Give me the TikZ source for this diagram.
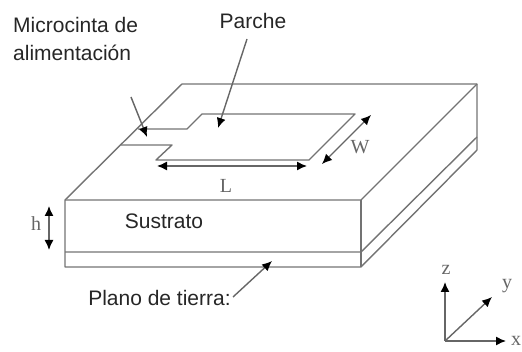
\documentclass[tikz,border=0pt]{standalone}
\usepackage{fontspec}
\setmainfont{Liberation Sans}
\newfontfamily\serifl{Liberation Serif}
\usetikzlibrary{arrows.meta}
\tikzset{
  edge/.style={draw=black!55,line width=1.4pt,line join=round},
  pointer/.style={draw=black!60,line width=1.4pt,-{Latex[length=10pt,width=9pt,black]}},
  dimen/.style={draw=black!60,line width=1.4pt,{Latex[length=10pt,width=9pt,black]}-{Latex[length=10pt,width=9pt,black]}},
  sanslabel/.style={font=\fontsize{21}{28}\selectfont,text=black!85,inner sep=0pt,align=left},
  seriflabel/.style={font=\serifl\fontsize{20}{22}\selectfont,text=black!60,inner sep=0pt},
}
\begin{document}
\begin{tikzpicture}[x=1pt,y=-1pt]
\useasboundingbox (0,0) rectangle (522,352);
% substrate block
\coordinate (ftl) at (65,200);
\coordinate (ftr) at (361,200);
\coordinate (bbl) at (182,84);
\coordinate (bbr) at (477,84);
\coordinate (fml) at (65,252);
\coordinate (fmr) at (361,252);
\coordinate (fbl) at (65,267);
\coordinate (fbr) at (361,267);
\coordinate (rm) at (477,137);
\coordinate (rb) at (477,150);
\draw[edge] (fbl) -- (ftl) -- (bbl) -- (bbr) -- (rb) -- (fbr) -- cycle;
\draw[edge] (ftl) -- (ftr) -- (bbr);
\draw[edge] (ftr) -- (fbr);
\draw[edge] (fml) -- (fmr) -- (rm);
% patch and feed line
\coordinate (p1) at (138,129);
\coordinate (p2) at (187,129);
\coordinate (p3) at (202,114);
\coordinate (p4) at (355,114);
\coordinate (p5) at (309,160);
\coordinate (p6) at (156,160);
\coordinate (p7) at (172,145);
\coordinate (p8) at (121,145);
\draw[edge] (p1) -- (p2) -- (p3) -- (p4) -- (p5) -- (p6) -- (p7) -- (p8);
% labels
\node[sanslabel,anchor=base west] (micro) at (13,61) {Microcinta de\\alimentación};
\node[sanslabel,anchor=base] (parche) at (253,29) {Parche};
\node[sanslabel,anchor=base] (sustrato) at (164,229) {Sustrato};
\node[sanslabel,anchor=base] (plano) at (159.5,306) {Plano de tierra:};
\node[seriflabel] (lL) at (226,186) {L};
\node[seriflabel] (lW) at (360,147) {W};
\node[seriflabel] (lh) at (36,224) {h};
\node[seriflabel] (lz) at (446,270) {z};
\node[seriflabel] (ly) at (507,286) {y};
\node[seriflabel] (lx) at (516,341) {x};
% pointers
\coordinate (mstart) at (131,97);
\coordinate (mend) at (147,137);
\coordinate (pstart) at (247,39);
\coordinate (pend) at (218,128);
\coordinate (gstart) at (233,297);
\coordinate (gend) at (272,261);
\draw[pointer] (mstart) -- (mend);
\draw[pointer] (pstart) -- (pend);
\draw[pointer] (gstart) -- (gend);
% dimensions
\coordinate (La) at (157,166);
\coordinate (Lb) at (307,166);
\coordinate (Wa) at (322,164);
\coordinate (Wb) at (371,115);
\coordinate (ha) at (49,206);
\coordinate (hb) at (49,250);
\draw[dimen] (La) -- (Lb);
\draw[dimen] (Wa) -- (Wb);
\draw[dimen] (ha) -- (hb);
% axes
\coordinate (o) at (445,341);
\coordinate (az) at (445,282);
\coordinate (ay) at (492,297);
\coordinate (ax) at (506,341);
\draw[pointer] (o) -- (az);
\draw[pointer] (o) -- (ay);
\draw[pointer] (o) -- (ax);
\end{tikzpicture}
\end{document}
